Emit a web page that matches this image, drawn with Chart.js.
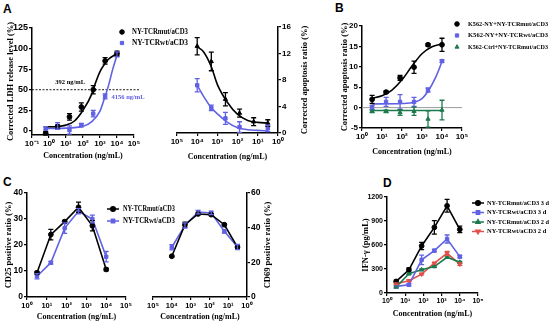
<!DOCTYPE html>
<html>
<head>
<meta charset="utf-8">
<script src="https://cdn.jsdelivr.net/npm/chart.js@4.4.1/dist/chart.umd.min.js"></script>
<style>
  html, body { margin: 0; padding: 0; background: #fff; width: 550px; height: 326px; overflow: hidden; }
  body { position: relative; }
  canvas { position: absolute; }
  .tag { position: absolute; font: bold 12px "Liberation Sans", Arial, sans-serif; color: #000; }
</style>
</head>
<body>
<div class="tag" style="left:3px;top:2px">A</div>
<div class="tag" style="left:335px;top:1px">B</div>
<div class="tag" style="left:3px;top:175px">C</div>
<div class="tag" style="left:383px;top:176px">D</div>

<canvas id="aL" width="190" height="161" style="left:0px;top:0px"></canvas>
<canvas id="aR" width="150" height="162" style="left:165px;top:0px"></canvas>
<canvas id="pB" width="220" height="157" style="left:330px;top:0px"></canvas>
<canvas id="cL" width="180" height="147" style="left:0px;top:175px"></canvas>
<canvas id="cR" width="140" height="147" style="left:140px;top:175px"></canvas>
<canvas id="pD" width="190" height="144" style="left:360px;top:175px"></canvas>

<script>
// ---- data ----
const concA = [0.64, 3.2, 16, 80, 400, 2000, 10000];
const conc = [3.2, 16, 80, 400, 2000, 10000];

// A left: LDH release
const ldhMut = [-3, 5, 17, 29, 50, 85, 94];
const ldhMutErr = [2, 2, 4, 5, 5, 4, 3];
const ldhWt = [3, 6, 1, 7, 21, 42, 93];
const ldhWtErr = [2, 4, 5, 2, 4, 3, 3];
const ldhFitMutX = [0.64, 1, 3.16, 10, 31.6, 100, 316, 392, 1000, 2000, 3162, 10000];
const ldhFitMut = [5, 5, 5.3, 7, 12, 25, 44, 50, 72, 82, 87, 94];
const ldhFitWtX = [0.64, 1, 3.16, 10, 31.6, 100, 316, 1000, 2000, 3162, 5623, 10000];
const ldhFitWt = [3, 3, 3, 3.3, 4, 5.5, 11, 24, 42, 55, 75, 92];

// A right: apoptosis
const apoMut = [1.5, 1.7, 3.0, 5.1, 10.8, 13.1];
const apoMutErr = [0.5, 0.6, 0.6, 1.0, 1.4, 1.3];
const apoWtX = [3.2, 80, 400, 2000, 10000];
const apoWt = [0.7, 0.9, 2.2, 3.8, 7.2];
const apoWtErr = [0.5, 0.8, 0.9, 0.4, 1.0];
const apoFitX = [3.2, 10, 31.6, 100, 316, 1000, 2000, 5000, 10000];
const apoFitMut = [1.5, 1.6, 1.9, 2.8, 4.6, 7.3, 10.0, 12.3, 13.0];
const apoFitWt = [0.3, 0.4, 0.5, 0.8, 1.6, 2.9, 3.8, 5.6, 7.2];

// B: K562 apoptosis
const bMut = [2.0, 3.8, 7.3, 9.9, 15.4, 15.4];
const bMutErr = [1.0, 0.3, 0.6, 1.5, 0.3, 1.6];
const bWt = [0.0, 1.4, 1.4, 1.4, 4.3, 11.4];
const bWtErr = [0.5, 1.1, 1.8, 1.1, 0.5, 0.3];
const bCtrl = [-0.9, -0.9, -1.2, -0.9, -2.8, -0.6];
const bCtrlErr = [0.3, 0.3, 0.7, 1.0, 2.0, 2.4];
const bFitMutX = [3.2, 10, 31.6, 100, 316, 1000, 3162, 10000];
const bFitMut = [2.3, 2.9, 4.3, 6.8, 10.2, 13.2, 14.9, 15.6];
const bFitWtX = [3.2, 100, 400, 1000, 2000, 5000, 10000];
const bFitWt = [0.9, 1.0, 1.3, 2.2, 4.0, 7.6, 11.3];
const bFitCtrlX = [3.2, 10000];
const bFitCtrl = [-0.7, -0.7];

// C: CD25 / CD69
const cd25Mut = [9.3, 24, 29, 34.5, 27.4, 10.6];
const cd25MutErr = [0.5, 2, 0.5, 2, 2, 0.5];
const cd25Wt = [8, 13.2, 26.5, 33, 30, 15.5];
const cd25WtErr = [1, 0.5, 2, 1, 1.5, 2];
const cd69Mut = [28.8, 41.7, 47.5, 47.9, 41.7, 23.5];
const cd69MutErr = [0.5, 0.5, 0.5, 0.5, 1.5, 0.5];
const cd69Wt = [28.8, 37.9, 48.5, 49, 41.3, 28.7];
const cd69WtErr = [1.5, 1, 1, 1, 1.5, 1.5];

// D: IFN-gamma
const ifnMut3 = [145, 290, 588, 820, 1090, 795];
const ifnMut3Err = [15, 25, 45, 85, 80, 40];
const ifnWt3 = [83, 103, 414, 530, 675, 455];
const ifnWt3Err = [15, 15, 60, 15, 50, 15];
const ifnMut2 = [75, 240, 290, 330, 447, 385];
const ifnMut2Err = [10, 10, 10, 10, 15, 10];
const ifnWt2 = [116, 153, 236, 372, 496, 360];
const ifnWt2Err = [10, 10, 10, 10, 25, 15];

const ticksA = [0.1, 1, 10, 100, 1000, 10000, 100000];
const ticksDec = [1, 10, 100, 1000, 10000, 100000];
const ticksLdh = [0, 25, 50, 75, 100, 125];
const ticksApo = [0, 4, 8, 12, 16];
const ticksB = [-5, 0, 5, 10, 15, 20];
const ticksCd25 = [0, 10, 20, 30, 40];
const ticksCd69 = [0, 20, 40, 60];
const ticksIfn = [0, 300, 600, 900, 1200];

const BLACK = '#000000';
const BLUE = '#6161e4';
const GREEN = '#1d7a4e';
const RED = '#e2504a';
const SERIF = '"Liberation Serif", "Times New Roman", serif';
const SANS = '"Liberation Sans", Arial, sans-serif';

// ---- helpers ----
const SUP = { '-': '\u207B', '0': '\u2070', '1': '\u00B9', '2': '\u00B2', '3': '\u00B3', '4': '\u2074', '5': '\u2075' };
const pow10 = v => '10' + String(Math.round(Math.log10(v))).split('').map(c => SUP[c]).join('');
const pts = (xs, ys) => xs.map((x, i) => ({ x, y: ys[i] }));

function marks(xs, ys, err, color, style, line, rot) {
    return {
        data: pts(xs, ys), errors: err,
        borderColor: color, backgroundColor: color,
        pointStyle: style, pointRadius: 2.4, pointBorderWidth: 1, pointRotation: rot || 0,
        showLine: !!line, borderWidth: 1.6, tension: 0,
    };
}

function fit(xs, ys, color) {
    return {
        data: pts(xs, ys), borderColor: color, backgroundColor: color,
        showLine: true, pointRadius: 0, borderWidth: 1.6, cubicInterpolationMode: 'monotone',
    };
}

function xAxis(min, max, ticks, rev, h, fs) {
    return {
        type: 'logarithmic', min, max, reverse: rev,
        afterBuildTicks: s => { s.ticks = ticks.map(v => ({ value: v })); },
        afterFit: s => { s.height = h; },
        ticks: { callback: pow10, autoSkip: false, maxRotation: 0, color: '#000', padding: 1,
                 font: { family: SANS, weight: 'bold', size: fs } },
        grid: { drawOnChartArea: false, drawTicks: true, tickLength: 3, color: '#000', lineWidth: 1.2 },
        border: { color: '#000', width: 1.5 },
        title: { display: true, text: 'Concentration (ng/mL)', color: '#000', padding: 0,
                 font: { family: SERIF, weight: 'bold', size: 8 } },
    };
}

function yAxis(min, max, ticks, w, pos, title, fs, tpad) {
    return {
        type: 'linear', min, max, position: pos,
        afterBuildTicks: s => { s.ticks = ticks.map(v => ({ value: v })); },
        afterFit: s => { s.width = w; },
        ticks: { autoSkip: false, color: '#000', padding: 1, callback: v => String(v),
                 font: { family: SANS, weight: 'bold', size: fs } },
        grid: { drawOnChartArea: false, drawTicks: true, tickLength: 3, color: '#000', lineWidth: 1.2 },
        border: { color: '#000', width: 1.5 },
        title: { display: !!title, text: title || '', color: '#000', padding: { top: tpad || 0, bottom: 0 },
                 font: { family: SERIF, weight: 'bold', size: 8.5 } },
    };
}

// per-canvas extras (legend, error bars, reference lines, labels)
const extrasCfg = {};

const extras = {
    id: 'extras',
    beforeDatasetsDraw(chart) {
        const o = extrasCfg[chart.canvas.id] || {};
        const { ctx, chartArea: a, scales: { x, y } } = chart;
        ctx.save();
        if (o.zeroLine) {
            const py = y.getPixelForValue(0);
            ctx.strokeStyle = '#9a9a9a'; ctx.lineWidth = 1;
            ctx.beginPath(); ctx.moveTo(a.left, py); ctx.lineTo(a.right, py); ctx.stroke();
        }
        if (o.hline) {
            const py = y.getPixelForValue(o.hline.y);
            ctx.strokeStyle = '#000'; ctx.lineWidth = 0.9; ctx.setLineDash([2, 1.5]);
            ctx.beginPath(); ctx.moveTo(a.left, py); ctx.lineTo(a.right + o.hline.over, py); ctx.stroke();
        }
        ctx.restore();
    },
    afterDatasetsDraw(chart) {
        const { ctx, scales: { x, y } } = chart;
        ctx.save();
        chart.data.datasets.forEach(ds => {
            if (!ds.errors) return;
            ctx.strokeStyle = ds.borderColor; ctx.lineWidth = 1.3;
            ds.data.forEach((p, j) => {
                const e = ds.errors[j];
                if (!e) return;
                const px = x.getPixelForValue(p.x);
                const y1 = y.getPixelForValue(p.y - e), y2 = y.getPixelForValue(p.y + e);
                ctx.beginPath();
                ctx.moveTo(px, y1); ctx.lineTo(px, y2);
                ctx.moveTo(px - 2.5, y1); ctx.lineTo(px + 2.5, y1);
                ctx.moveTo(px - 2.5, y2); ctx.lineTo(px + 2.5, y2);
                ctx.stroke();
            });
        });
        ctx.restore();
    },
    afterDraw(chart) {
        const o = extrasCfg[chart.canvas.id] || {};
        const { ctx, chartArea: a, scales: { x, y } } = chart;
        ctx.save();
        if (o.legend) {
            const lg = o.legend;
            ctx.font = `bold ${lg.size}px ${SERIF}`;
            ctx.textBaseline = 'middle';
            lg.items.forEach((it, i) => {
                const ly = lg.y + i * lg.dy;
                ctx.strokeStyle = it.color; ctx.fillStyle = it.color;
                if (lg.line) {
                    ctx.lineWidth = 1.5;
                    ctx.beginPath(); ctx.moveTo(lg.x - 6, ly); ctx.lineTo(lg.x + 6, ly); ctx.stroke();
                }
                Chart.helpers.drawPoint(ctx, { pointStyle: it.style, radius: 2.3, rotation: it.rot || 0, borderWidth: 1 }, lg.x, ly);
                ctx.fillStyle = '#000';
                ctx.fillText(it.label, lg.x + lg.gap, ly, lg.maxW);
            });
        }
        if (o.rightTitle) {
            ctx.font = `bold 8.5px ${SERIF}`;
            ctx.fillStyle = '#000';
            ctx.textAlign = 'center'; ctx.textBaseline = 'middle';
            ctx.translate(o.rightTitle.x, (a.top + a.bottom) / 2);
            ctx.rotate(-Math.PI / 2);
            ctx.fillText(o.rightTitle.text, 0, 0);
            ctx.setTransform(1, 0, 0, 1, 0, 0);
        }
        (o.notes || []).forEach(n => {
            ctx.font = `bold 6.5px ${SERIF}`;
            ctx.fillStyle = n.color;
            ctx.textAlign = n.align; ctx.textBaseline = 'middle';
            ctx.fillText(n.text, x.getPixelForValue(n.x) + n.dx, y.getPixelForValue(n.y) + n.dy);
        });
        ctx.restore();
    }
};
Chart.register(extras);

function makeChart(id, datasets, scales, padding, extra) {
    extrasCfg[id] = extra || {};
    return new Chart(document.getElementById(id), {
        type: 'scatter',
        data: { datasets },
        options: {
            responsive: false, animation: false, events: [],
            layout: { padding },
            plugins: { legend: { display: false }, tooltip: { enabled: false } },
            scales,
        },
    });
}

// ---- A left ----
makeChart('aL', [
    fit(ldhFitMutX, ldhFitMut, BLACK),
    fit(ldhFitWtX, ldhFitWt, BLUE),
    marks(concA, ldhMut, ldhMutErr, BLACK, 'circle'),
    marks(concA, ldhWt, ldhWtErr, BLUE, 'rect'),
], {
    x: xAxis(0.1, 100000, ticksA, false, 26, 8),
    y: yAxis(-5, 125, ticksLdh, 32, 'left', 'Corrected LDH release level (%)', 9, 6),
}, { top: 28, right: 56, left: 0, bottom: 0 }, {
    hline: { y: 50, over: 5 },
    legend: { x: 122, y: 32, dy: 11, gap: 10, size: 7.5, maxW: 56, items: [
        { label: 'NY-TCRmut/aCD3', color: BLACK, style: 'circle' },
        { label: 'NY-TCRwt/aCD3', color: BLUE, style: 'rect' },
    ] },
    notes: [
        { text: '392 ng/mL', x: 392, y: 50, dx: -8, dy: -7, align: 'right', color: '#000' },
        { text: '4156 ng/mL', x: 4156, y: 50, dx: 1, dy: 8, align: 'left', color: BLUE },
    ],
});

// ---- A right ----
makeChart('aR', [
    fit(apoFitX, apoFitMut, BLACK),
    fit(apoFitX, apoFitWt, BLUE),
    marks(conc, apoMut, apoMutErr, BLACK, 'triangle'),
    marks(apoWtX, apoWt, apoWtErr, BLUE, 'rect'),
], {
    x: xAxis(1, 100000, ticksDec, true, 29, 8),
    y: yAxis(0, 16, ticksApo, 37, 'right', null, 8),
}, { top: 27, left: 12, right: 0, bottom: 0 }, {
    rightTitle: { x: 140, text: 'Corrected apoptosis ratio (%)' },
});

// ---- B ----
makeChart('pB', [
    fit(bFitMutX, bFitMut, BLACK),
    fit(bFitWtX, bFitWt, BLUE),
    fit(bFitCtrlX, bFitCtrl, GREEN),
    marks(conc, bMut, bMutErr, BLACK, 'circle'),
    marks(conc, bWt, bWtErr, BLUE, 'rect'),
    marks(conc, bCtrl, bCtrlErr, GREEN, 'triangle'),
], {
    x: xAxis(1, 100000, ticksDec, false, 29, 8),
    y: yAxis(-5, 20, ticksB, 32, 'left', 'Corrected apoptosis ratio (%)', 8, 10),
}, { top: 26, right: 88, left: 0, bottom: 0 }, {
    zeroLine: true,
    legend: { x: 127, y: 24, dy: 11.5, gap: 11, size: 7, maxW: 80, items: [
        { label: 'K562-NY+NY-TCRmut/aCD3', color: BLACK, style: 'circle' },
        { label: 'K562-NY+NY-TCRwt/aCD3', color: BLUE, style: 'rect' },
        { label: 'K562-Ctrl+NY-TCRmut/aCD3', color: GREEN, style: 'triangle' },
    ] },
});

// ---- C left ----
makeChart('cL', [
    marks(conc, cd25Mut, cd25MutErr, BLACK, 'circle', true),
    marks(conc, cd25Wt, cd25WtErr, BLUE, 'rect', true),
], {
    x: xAxis(1, 100000, ticksDec, false, 25, 7.5),
    y: yAxis(0, 40, ticksCd25, 27, 'left', 'CD25 positive ratio (%)', 8.5, 4),
}, { top: 18, right: 54, left: 0, bottom: 0 }, {
    legend: { x: 113, y: 34, dy: 12, gap: 10, size: 7.5, maxW: 52, items: [
        { label: 'NY-TCRmut/aCD3', color: BLACK, style: 'circle' },
        { label: 'NY-TCRwt/aCD3', color: BLUE, style: 'rect' },
    ], line: true },
});

// ---- C right ----
makeChart('cR', [
    marks(conc, cd69Mut, cd69MutErr, BLACK, 'circle', true),
    marks(conc, cd69Wt, cd69WtErr, BLUE, 'rect', true),
], {
    x: xAxis(1, 100000, ticksDec, true, 25, 7.5),
    y: yAxis(0, 60, ticksCd69, 33, 'right', null, 8.5),
}, { top: 18, left: 13, right: 0, bottom: 0 }, {
    rightTitle: { x: 128, text: 'CD69 positive ratio (%)' },
});

// ---- D ----
makeChart('pD', [
    marks(conc, ifnMut3, ifnMut3Err, BLACK, 'circle', true),
    marks(conc, ifnWt3, ifnWt3Err, BLUE, 'rect', true),
    marks(conc, ifnMut2, ifnMut2Err, GREEN, 'triangle', true),
    marks(conc, ifnWt2, ifnWt2Err, RED, 'triangle', true, 180),
], {
    x: xAxis(1, 100000, ticksDec, false, 26, 7),
    y: yAxis(0, 1200, ticksIfn, 27, 'left', 'IFN-\u03B3 (pg/mL)', 7, 1),
}, { top: 22, right: 72, left: 0, bottom: 0 }, {
    legend: { x: 118, y: 28, dy: 9.5, gap: 9, size: 6.5, maxW: 62, line: true, items: [
        { label: 'NY-TCRmut/aCD3 3 d', color: BLACK, style: 'circle' },
        { label: 'NY-TCRwt/aCD3 3 d', color: BLUE, style: 'rect' },
        { label: 'NY-TCRmut/aCD3 2 d', color: GREEN, style: 'triangle' },
        { label: 'NY-TCRwt/aCD3 2 d', color: RED, style: 'triangle', rot: 180 },
    ] },
});
</script>
</body>
</html>
